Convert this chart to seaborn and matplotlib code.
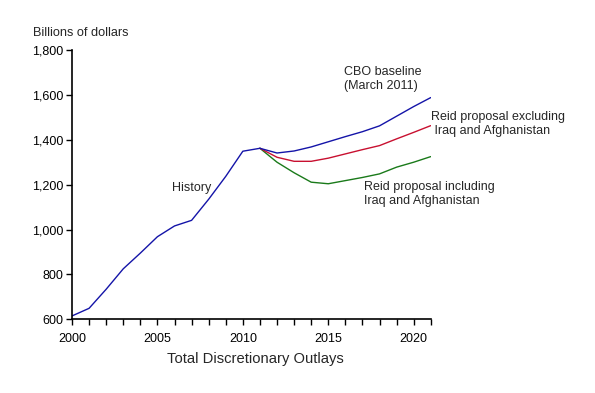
import matplotlib
matplotlib.use("Agg")
import matplotlib.pyplot as plt
import seaborn as sns
import pandas as pd
import numpy as np

hist_years = [2000, 2001, 2002, 2003, 2004, 2005, 2006, 2007, 2008, 2009, 2010, 2011]
hist_vals = [615, 649, 734, 825, 895, 968, 1016, 1041, 1135, 1237, 1349, 1362]

proj_years = [2011, 2012, 2013, 2014, 2015, 2016, 2017, 2018, 2019, 2020, 2021]
cbo_vals = [1362, 1341, 1350, 1368, 1391, 1414, 1436, 1462, 1505, 1548, 1588]
reid_excl_vals = [1362, 1322, 1304, 1304, 1318, 1337, 1356, 1374, 1404, 1433, 1463]
reid_incl_vals = [1362, 1300, 1253, 1211, 1204, 1218, 1232, 1248, 1278, 1300, 1325]

y_ticks = [600, 800, 1000, 1200, 1400, 1600, 1800]
x_ticks = [2000, 2005, 2010, 2015, 2020]

sns.set_style("ticks")
plt.rcParams['font.family'] = ['Liberation Sans', 'DejaVu Sans']

fig = plt.figure(figsize=(5.95, 3.93), dpi=100)
ax = fig.add_axes([0.121, 0.1875, 0.603, 0.6853])

blue = '#1414A8'
red = '#C81030'
green = '#1A7A1A'

df = pd.concat([
    pd.DataFrame({'year': proj_years, 'value': reid_incl_vals, 'series': 'incl'}),
    pd.DataFrame({'year': proj_years, 'value': reid_excl_vals, 'series': 'excl'}),
    pd.DataFrame({'year': hist_years, 'value': hist_vals, 'series': 'hist'}),
    pd.DataFrame({'year': proj_years, 'value': cbo_vals, 'series': 'cbo'}),
])
sns.lineplot(data=df, x='year', y='value', hue='series',
             palette={'incl': green, 'excl': red, 'hist': blue, 'cbo': blue},
             linewidth=1.0, legend=False, ax=ax, estimator=None, sort=False)

ax.set_xlim(2000, 2021)
ax.set_ylim(600, 1800)
ax.set_xticks(x_ticks)
ax.set_xticks(list(range(2000, 2022)), minor=True)
ax.set_yticks(y_ticks)
ax.set_yticklabels([f"{v:,}" for v in y_ticks])
ax.tick_params(axis='both', which='both', direction='out', length=4, width=1,
               labelsize=9, colors='black', pad=2)
ax.tick_params(axis='x', which='major', pad=5.5)
for s in ['top', 'right']:
    ax.spines[s].set_visible(False)
for s in ['left', 'bottom']:
    ax.spines[s].set_linewidth(1.2)
    ax.spines[s].set_color('black')
ax.set_xlabel('')
ax.set_ylabel('')

fig.text(33/595, 1 - 33/393, 'Billions of dollars', fontsize=9.2, ha='left', va='center')
fig.text(255.5/595, 1 - 359/393, 'Total Discretionary Outlays', fontsize=10.6, ha='center', va='center')

fs = 9
ax.text(2005.85, 1183, 'History', fontsize=fs, ha='left', va='center')
ax.text(2015.92, 1670, 'CBO baseline\n(March 2011)', fontsize=fs, ha='left', va='center', linespacing=1.25)
ax.text(2021.0, 1470, 'Reid proposal excluding\n Iraq and Afghanistan', fontsize=fs, ha='left', va='center', linespacing=1.25)
ax.text(2017.09, 1160, 'Reid proposal including\nIraq and Afghanistan', fontsize=fs, ha='left', va='center', linespacing=1.25)

fig.savefig('out.png', dpi=100)
